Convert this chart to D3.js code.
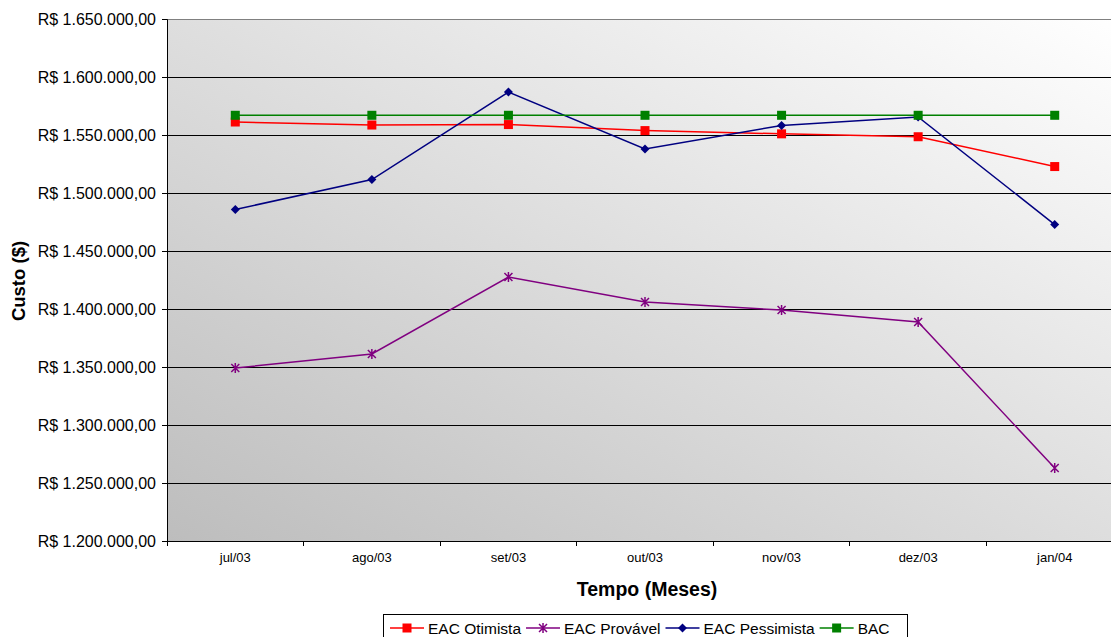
<!DOCTYPE html>
<html><head><meta charset="utf-8">
<script src="https://cdn.jsdelivr.net/npm/d3@7"></script>
<style>body{margin:0;background:#fff;overflow:hidden}svg{display:block;font-family:Arial,"Liberation Sans",sans-serif}</style>
</head><body>
<svg id="c" width="1111" height="637"></svg>
<script>
const categories = ["jul/03","ago/03","set/03","out/03","nov/03","dez/03","jan/04"];
const eacOtimista   = [1561200,1558600,1559000,1553800,1551000,1548500,1522800];
const eacProvavel   = [1349100,1361200,1427600,1406100,1399100,1388800,1262900];
const eacPessimista = [1485800,1511600,1587000,1537900,1558200,1565500,1472800];
const bac           = [1567000,1567000,1567000,1567000,1567000,1567000,1567000];
const yTicks = [1200000,1250000,1300000,1350000,1400000,1450000,1500000,1550000,1600000,1650000];
const seriesNames = ["EAC Otimista","EAC Provável","EAC Pessimista","BAC"];

const svg = d3.select("#c");
const L=167, T=19, R=1123, B=541;
const x = d3.scaleBand().domain(categories).range([L,R]);
const y = d3.scaleLinear().domain([1200000,1650000]).range([B,T]);

const defs = svg.append("defs");
const g = defs.append("linearGradient").attr("id","bg").attr("x1","0%").attr("y1","100%").attr("x2","100%").attr("y2","0%");
g.append("stop").attr("offset","0%").attr("stop-color","#bdbdbd");
g.append("stop").attr("offset","100%").attr("stop-color","#ffffff");
svg.append("rect").attr("x",L).attr("y",T).attr("width",R-L).attr("height",B-T).attr("fill","url(#bg)");

svg.append("g").selectAll("line").data(yTicks.slice(1)).join("line")
  .attr("x1",L).attr("x2",R).attr("y1",d=>y(d)).attr("y2",d=>y(d))
  .attr("stroke",d=>d===1650000?"#808080":"#000").attr("stroke-width",1).attr("shape-rendering","crispEdges");

const fmt = v => "R$ " + d3.format(",")(v).replace(/,/g,".") + ",00";
const ya = svg.append("g").attr("transform",`translate(${L},0)`)
  .call(d3.axisLeft(y).tickValues(yTicks).tickSize(5).tickPadding(6).tickFormat(fmt));
ya.select(".domain").attr("stroke","#000");
ya.selectAll("line").attr("stroke","#000");
ya.selectAll("text").attr("font-size","16px").attr("fill","#000").attr("font-family","Arial,'Liberation Sans',sans-serif");

const xa = svg.append("g").attr("transform",`translate(0,${B})`)
  .call(d3.axisBottom(x).tickSize(0).tickPadding(12));
xa.select(".domain").attr("stroke","#000");
xa.selectAll("text").attr("font-size","13px").attr("fill","#000").attr("font-family","Arial,'Liberation Sans',sans-serif");
svg.append("g").selectAll("line").data(categories).join("line")
  .attr("x1",d=>x(d)).attr("x2",d=>x(d)).attr("y1",B).attr("y2",B+5).attr("stroke","#000").attr("shape-rendering","crispEdges");

svg.append("text").attr("x",647).attr("y",596).attr("text-anchor","middle")
  .attr("font-size","19.5px").attr("font-weight","bold").text("Tempo (Meses)");
svg.append("text").attr("transform","translate(25,281) rotate(-90)").attr("text-anchor","middle")
  .attr("font-size","18.5px").attr("font-weight","bold").text("Custo ($)");

const series = [
  {name:seriesNames[0], vals:eacOtimista, color:"#ff0000", marker:"square"},
  {name:seriesNames[1], vals:eacProvavel, color:"#800080", marker:"star"},
  {name:seriesNames[2], vals:eacPessimista, color:"#000080", marker:"diamond"},
  {name:seriesNames[3], vals:bac, color:"#008000", marker:"square"}
];
const cx = d => x(d)+x.bandwidth()/2;
function drawMarker(sel, m, color){
  if(m==="square") sel.append("rect").attr("x",-4.5).attr("y",-4.5).attr("width",9).attr("height",9).attr("fill",color);
  else if(m==="diamond") sel.append("path").attr("d","M0,-4.5L4.5,0L0,4.5L-4.5,0Z").attr("fill",color);
  else sel.append("path").attr("d","M-4,-4L4,4M-4,4L4,-4M0,-5L0,5").attr("stroke",color).attr("stroke-width",1.5);
}
series.forEach(s=>{
  const line = d3.line().x((v,i)=>cx(categories[i])).y(v=>y(v));
  svg.append("path").attr("d",line(s.vals)).attr("fill","none").attr("stroke",s.color).attr("stroke-width",1.5);
});
series.forEach(s=>{
  s.vals.forEach((v,i)=>{
    const gm = svg.append("g").attr("transform",`translate(${cx(categories[i])},${y(v)})`);
    drawMarker(gm,s.marker,s.color);
  });
});

const lg = svg.append("g");
lg.append("rect").attr("x",383.5).attr("y",614.5).attr("width",524).attr("height",23).attr("fill","#fff").attr("stroke","#000");
let lx = 390;
series.forEach(s=>{
  const it = lg.append("g");
  it.append("line").attr("x1",lx).attr("x2",lx+34).attr("y1",628).attr("y2",628).attr("stroke",s.color).attr("stroke-width",1.5);
  const gm = it.append("g").attr("transform",`translate(${lx+17},628)`);
  drawMarker(gm,s.marker,s.color);
  const t = it.append("text").attr("x",lx+38).attr("y",634).attr("font-size","15.5px").text(s.name);
  lx += 38 + t.node().getComputedTextLength() + 5;
});
</script>
</body></html>
